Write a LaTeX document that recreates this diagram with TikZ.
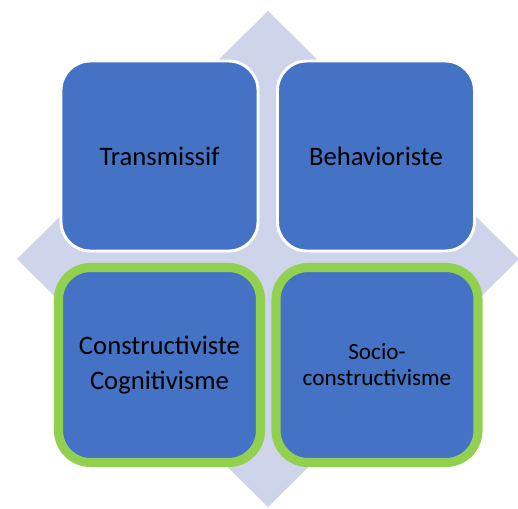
\documentclass[tikz,border=0pt]{standalone}
\usepackage{fontspec}
\setmainfont{Carlito}
\definecolor{boxblue}{HTML}{4472C4}
\definecolor{diamondfill}{HTML}{CED4EA}
\definecolor{greenedge}{HTML}{92D050}
\begin{document}
\begin{tikzpicture}[x=0.75pt,y=-0.75pt,
  topbox/.style={rectangle, rounded corners=22pt, fill=boxblue, draw=white, line width=2.2pt,
    minimum width=197*0.75pt, minimum height=190*0.75pt, align=center, inner sep=0pt,
    font=\fontsize{20}{24.5}\selectfont},
  botbox/.style={rectangle, rounded corners=24pt, fill=boxblue, draw=greenedge, line width=6.8pt,
    minimum width=202*0.75pt, minimum height=195*0.75pt, align=center, inner sep=0pt,
    font=\fontsize{20}{26}\selectfont}]
\useasboundingbox (0,0) rectangle (518,508);
\begin{scope}
\clip (0,0) rectangle (518,508);
\fill[diamondfill] (268,11) -- (519,259) -- (268,507) -- (17,259) -- cycle;
\end{scope}
\node[topbox] (tl) at (159.5,156) {Transmissif};
\node[topbox] (tr) at (376,156) {Behavioriste};
\node[botbox] (bl) at (159.5,365) {Constructiviste\\Cognitivisme};
\node[botbox, font=\fontsize{17.4}{19.5}\selectfont] (br) at (377,365) {Socio-\\constructivisme};
\end{tikzpicture}
\end{document}
